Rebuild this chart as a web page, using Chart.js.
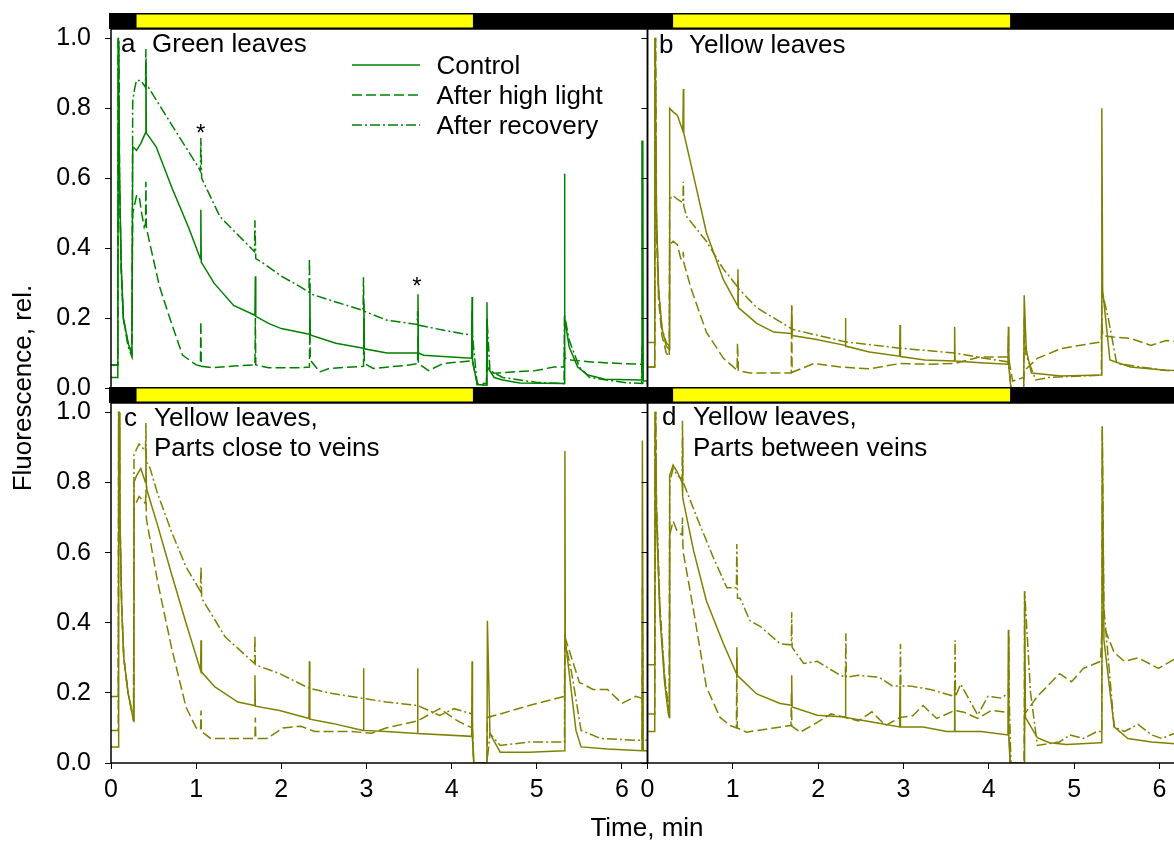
<!DOCTYPE html>
<html><head><meta charset="utf-8">
<script src="https://cdn.jsdelivr.net/npm/chart.js@4.4.0/dist/chart.umd.min.js"></script>
<style>
html,body{margin:0;padding:0;background:#fff;overflow:hidden;width:1174px;height:843px;position:relative}
canvas{position:absolute;left:0;top:0}
</style></head><body>
<canvas id="ca" width="1200" height="843"></canvas>
<canvas id="cb" width="1200" height="843"></canvas>
<canvas id="cc" width="1200" height="843"></canvas>
<canvas id="cd" width="1200" height="843"></canvas>
<script>
// ---------- axis / tick data ----------
const xTicks = [0, 1, 2, 3, 4, 5, 6];
const yTicks = [0, 0.2, 0.4, 0.6, 0.8, 1.0];
const xRange = [0, 6.3];
const yRange = [0, 1.027];
const lightPeriod = [0.3, 4.25];
const seriesNames = ['Control', 'After high light', 'After recovery'];

// ---------- panel a: green leaves ----------
const aCtrlT = [0,0.08,0.085,0.092,0.1,0.12,0.145,0.2,0.245,0.255,0.3,0.35,0.405,0.41,0.415,0.53,0.72,0.91,1.05,1.055,1.06,1.21,1.44,1.69,1.695,1.7,1.85,2.0,2.33,2.335,2.34,2.64,2.965,2.97,2.975,3.24,3.6,3.605,3.61,3.67,3.9,4.235,4.24,4.245,4.3,4.41,4.415,4.42,4.5,4.6,4.8,5.32,5.325,5.33,5.38,5.48,5.6,5.8,6.23,6.235,6.245,6.25,6.3];
const aCtrlF = [0.03,0.03,1.0,1.0,0.6,0.35,0.2,0.13,0.095,0.69,0.68,0.7,0.73,0.93,0.73,0.69,0.57,0.46,0.37,0.51,0.36,0.3,0.236,0.208,0.32,0.205,0.185,0.17,0.154,0.3,0.152,0.128,0.114,0.25,0.112,0.1,0.1,0.268,0.1,0.094,0.09,0.085,0.26,0.08,0.01,0.008,0.245,0.06,0.03,0.023,0.014,0.013,0.613,0.2,0.118,0.06,0.037,0.025,0.023,0.706,0.706,0.02,0.02];
const aHighT = [0,0.08,0.085,0.092,0.1,0.12,0.145,0.2,0.245,0.255,0.3,0.33,0.36,0.39,0.405,0.41,0.415,0.45,0.57,0.69,0.84,1.0,1.05,1.055,1.06,1.2,1.45,1.69,1.695,1.7,1.85,2.2,2.33,2.335,2.34,2.45,2.56,2.84,2.965,2.97,2.975,3.08,3.48,3.6,3.605,3.61,3.73,3.9,4.235,4.24,4.245,4.3,4.41,4.415,4.42,4.5,4.72,4.99,5.2,5.32,5.325,5.33,5.4,5.67,5.98,6.23,6.235,6.245,6.3];
const aHighF = [0.066,0.066,1.0,1.0,0.6,0.33,0.2,0.13,0.1,0.5,0.55,0.55,0.5,0.46,0.47,0.59,0.46,0.42,0.29,0.2,0.094,0.066,0.063,0.19,0.062,0.058,0.063,0.066,0.2,0.066,0.058,0.058,0.06,0.2,0.08,0.046,0.056,0.06,0.062,0.2,0.07,0.056,0.065,0.07,0.15,0.07,0.05,0.07,0.078,0.2,0.075,0.013,0.013,0.2,0.05,0.042,0.046,0.05,0.06,0.06,0.12,0.085,0.08,0.074,0.07,0.068,0.12,0.068,0.068];
const aRecT = [0,0.08,0.085,0.092,0.1,0.12,0.145,0.2,0.245,0.255,0.28,0.3,0.35,0.405,0.41,0.415,0.44,0.72,1.03,1.05,1.055,1.065,1.28,1.685,1.69,1.7,1.77,2.0,2.22,2.325,2.33,2.335,2.64,2.96,2.965,2.97,3.24,3.595,3.6,3.605,3.91,4.235,4.24,4.245,4.3,4.41,4.415,4.45,4.6,5.0,5.32,5.325,5.38,5.5,5.62,6.05,6.23,6.235,6.245,6.3];
const aRecF = [0.066,0.066,1.0,1.0,0.6,0.35,0.2,0.12,0.09,0.82,0.86,0.88,0.88,0.86,0.97,0.86,0.86,0.75,0.63,0.62,0.715,0.6,0.49,0.39,0.48,0.37,0.36,0.32,0.29,0.274,0.37,0.27,0.246,0.222,0.317,0.22,0.194,0.182,0.22,0.18,0.165,0.151,0.22,0.15,0.01,0.01,0.2,0.05,0.03,0.016,0.013,0.21,0.137,0.06,0.03,0.015,0.013,0.1,0.013,0.013];

// ---------- panel b: yellow leaves ----------
const bCtrlT = [0,0.085,0.088,0.095,0.105,0.13,0.17,0.22,0.255,0.26,0.3,0.35,0.415,0.42,0.425,0.54,0.69,0.89,1.055,1.06,1.065,1.28,1.48,1.685,1.69,1.695,1.95,2.315,2.32,2.325,2.6,2.955,2.96,2.965,3.25,3.595,3.6,3.605,3.9,4.225,4.23,4.235,4.26,4.41,4.415,4.44,4.5,4.85,5.32,5.325,5.335,5.42,5.66,6.08,6.3];
const bCtrlF = [0.06,0.06,1.0,1.0,0.5,0.28,0.17,0.12,0.11,0.8,0.79,0.78,0.735,0.855,0.73,0.607,0.445,0.31,0.236,0.34,0.23,0.185,0.16,0.156,0.236,0.15,0.14,0.122,0.2,0.12,0.103,0.091,0.18,0.09,0.08,0.077,0.175,0.077,0.072,0.068,0.175,0.06,0.0,0.0,0.265,0.108,0.043,0.034,0.037,0.8,0.28,0.08,0.06,0.051,0.05];
const bHighT = [0,0.085,0.088,0.095,0.105,0.13,0.17,0.22,0.255,0.26,0.3,0.35,0.39,0.415,0.42,0.425,0.51,0.69,0.89,1.05,1.055,1.065,1.2,1.685,1.69,1.695,1.95,2.26,2.6,2.96,3.3,3.6,3.9,4.23,4.28,4.41,4.42,4.57,4.85,5.32,5.325,5.335,5.46,5.66,5.9,6.08,6.3];
const bHighF = [0.06,0.06,1.0,1.0,0.45,0.25,0.15,0.1,0.09,0.41,0.42,0.41,0.37,0.37,0.39,0.36,0.285,0.16,0.085,0.051,0.128,0.05,0.043,0.043,0.236,0.045,0.07,0.06,0.055,0.07,0.068,0.07,0.089,0.089,0.02,0.03,0.05,0.085,0.113,0.132,0.2,0.15,0.146,0.142,0.122,0.136,0.13];
const bRecT = [0,0.085,0.088,0.095,0.105,0.13,0.17,0.22,0.255,0.26,0.3,0.35,0.415,0.42,0.425,0.46,0.69,0.89,1.055,1.06,1.065,1.28,1.685,1.69,1.695,2.32,2.96,3.6,3.95,4.225,4.23,4.235,4.26,4.41,4.415,4.43,4.55,4.7,5.32,5.325,5.4,5.5,6.08,6.3];
const bRecF = [0.13,0.13,1.0,1.0,0.5,0.28,0.17,0.13,0.12,0.54,0.55,0.54,0.53,0.59,0.52,0.49,0.42,0.34,0.29,0.31,0.285,0.23,0.17,0.2,0.168,0.132,0.114,0.1,0.085,0.075,0.15,0.07,0.0,0.0,0.2,0.1,0.023,0.03,0.037,0.28,0.2,0.07,0.05,0.05];

// ---------- panel c: yellow leaves, parts close to veins ----------
const cCtrlT = [0,0.085,0.09,0.097,0.105,0.125,0.15,0.2,0.265,0.27,0.3,0.35,0.405,0.41,0.415,0.42,0.545,0.71,0.88,1.052,1.057,1.062,1.22,1.49,1.685,1.69,1.695,1.98,2.325,2.33,2.335,2.6,2.96,2.965,2.97,3.23,3.595,3.6,3.605,4.235,4.24,4.245,4.26,4.415,4.42,4.45,4.57,4.91,5.325,5.33,5.335,5.46,5.52,5.83,6.235,6.24,6.25,6.3];
const cCtrlF = [0.046,0.046,1.0,1.0,0.7,0.45,0.3,0.2,0.12,0.80,0.82,0.84,0.80,0.9,0.79,0.78,0.68,0.54,0.40,0.264,0.35,0.26,0.217,0.174,0.164,0.25,0.162,0.15,0.127,0.29,0.125,0.113,0.093,0.27,0.093,0.09,0.084,0.27,0.084,0.076,0.29,0.07,0.0,0.0,0.406,0.084,0.031,0.031,0.035,0.89,0.35,0.093,0.046,0.04,0.035,0.92,0.035,0.035];
const cHighT = [0,0.085,0.09,0.097,0.105,0.125,0.15,0.2,0.265,0.27,0.33,0.405,0.41,0.415,0.42,0.545,0.71,0.88,1.0,1.052,1.057,1.062,1.17,1.55,1.69,1.695,1.7,1.83,2.02,2.23,2.39,2.81,3.06,3.23,3.6,3.86,4.07,4.24,4.26,4.415,4.42,4.57,4.91,5.325,5.33,5.5,5.66,5.83,6.0,6.16,6.3];
const cHighF = [0.093,0.093,1.0,1.0,0.7,0.45,0.3,0.2,0.12,0.73,0.76,0.74,0.78,0.7,0.69,0.52,0.33,0.16,0.1,0.095,0.15,0.09,0.07,0.07,0.07,0.13,0.07,0.07,0.1,0.105,0.09,0.09,0.085,0.1,0.12,0.155,0.12,0.1,0.0,0.0,0.13,0.14,0.164,0.19,0.36,0.23,0.21,0.21,0.17,0.19,0.18];
const cRecT = [0,0.085,0.09,0.097,0.105,0.125,0.15,0.2,0.265,0.27,0.33,0.405,0.41,0.415,0.46,0.545,0.71,0.88,1.05,1.057,1.065,1.34,1.685,1.69,1.695,1.98,2.33,2.6,2.965,3.23,3.6,3.86,4.03,4.24,4.26,4.415,4.45,4.57,4.91,5.325,5.33,5.41,5.52,5.75,6.16,6.235,6.24,6.25,6.3];
const cRecF = [0.19,0.19,1.0,1.0,0.7,0.45,0.3,0.2,0.13,0.88,0.91,0.89,0.97,0.86,0.84,0.77,0.66,0.56,0.49,0.56,0.47,0.36,0.284,0.364,0.28,0.255,0.213,0.198,0.184,0.174,0.164,0.136,0.155,0.14,0.0,0.0,0.084,0.05,0.06,0.06,0.35,0.256,0.093,0.07,0.065,0.065,0.5,0.065,0.065];

// ---------- panel d: yellow leaves, parts between veins ----------
const dCtrlT = [0,0.085,0.09,0.097,0.105,0.145,0.2,0.244,0.255,0.26,0.3,0.35,0.405,0.41,0.415,0.42,0.54,0.69,0.89,1.042,1.047,1.052,1.28,1.555,1.685,1.69,1.695,1.99,2.315,2.32,2.325,2.63,2.955,2.96,2.965,3.23,3.51,3.595,3.6,3.605,3.91,4.225,4.23,4.235,4.25,4.415,4.42,4.43,4.57,4.71,4.91,5.31,5.325,5.33,5.35,5.47,5.63,5.91,6.18,6.3];
const dCtrlF = [0.09,0.09,1.0,1.0,0.7,0.42,0.23,0.14,0.13,0.82,0.85,0.83,0.80,0.93,0.76,0.748,0.606,0.463,0.34,0.255,0.33,0.25,0.197,0.17,0.165,0.25,0.16,0.136,0.131,0.25,0.13,0.117,0.103,0.22,0.103,0.103,0.09,0.09,0.22,0.09,0.09,0.08,0.38,0.075,0.0,0.0,0.49,0.13,0.072,0.058,0.053,0.058,0.058,0.96,0.35,0.103,0.07,0.06,0.055,0.055];
const dHighT = [0,0.085,0.09,0.097,0.105,0.145,0.2,0.244,0.255,0.26,0.3,0.35,0.405,0.41,0.415,0.42,0.54,0.69,0.85,0.97,1.042,1.047,1.052,1.16,1.48,1.682,1.687,1.692,1.79,1.95,2.15,2.32,2.47,2.63,2.79,2.96,3.11,3.23,3.39,3.6,3.71,3.87,4.03,4.19,4.23,4.25,4.415,4.42,4.57,4.83,4.97,5.11,5.31,5.33,5.47,5.59,5.75,5.99,6.18,6.3];
const dHighF = [0.14,0.14,1.0,1.0,0.72,0.44,0.24,0.16,0.15,0.65,0.69,0.66,0.65,0.7,0.62,0.6,0.435,0.217,0.13,0.107,0.1,0.3,0.1,0.088,0.1,0.107,0.2,0.105,0.088,0.11,0.14,0.13,0.12,0.146,0.107,0.13,0.135,0.164,0.127,0.15,0.145,0.127,0.15,0.145,0.15,0.0,0.0,0.14,0.19,0.255,0.232,0.27,0.29,0.4,0.315,0.29,0.3,0.27,0.297,0.29];
const dRecT = [0,0.085,0.09,0.097,0.105,0.145,0.2,0.244,0.255,0.26,0.3,0.35,0.405,0.41,0.415,0.42,0.58,0.77,0.93,1.042,1.047,1.055,1.086,1.2,1.32,1.555,1.685,1.69,1.695,1.83,1.99,2.26,2.32,2.325,2.33,2.47,2.71,2.87,2.96,2.965,2.97,3.07,3.31,3.6,3.605,3.61,3.67,3.87,3.99,4.15,4.23,4.235,4.24,4.26,4.415,4.42,4.49,4.57,4.83,4.95,5.11,5.27,5.325,5.33,5.35,5.47,5.59,5.75,5.91,6.03,6.18,6.3];
const dRecF = [0.28,0.28,1.0,1.0,0.75,0.45,0.25,0.16,0.15,0.80,0.84,0.82,0.81,0.976,0.80,0.80,0.70,0.587,0.50,0.50,0.625,0.47,0.47,0.406,0.39,0.34,0.337,0.43,0.33,0.284,0.29,0.25,0.245,0.37,0.245,0.25,0.245,0.22,0.22,0.34,0.22,0.22,0.21,0.19,0.35,0.19,0.225,0.137,0.19,0.185,0.2,0.36,0.18,0.0,0.0,0.49,0.2,0.05,0.06,0.08,0.07,0.09,0.09,0.96,0.44,0.103,0.09,0.11,0.08,0.07,0.085,0.08];

// ---------- styling ----------
const FONT = "'Liberation Sans', Arial, Helvetica, sans-serif";
Chart.defaults.font.family = FONT;
const GREEN = '#008000';
const OLIVE = '#808000';
const DASHES = [[], [10, 4], [10, 3, 2, 3]];

function pts(T, F) { return T.map((t, i) => ({ x: t, y: F[i] })); }

function panelPlugin(cfg) {
  return {
    id: 'panelDeco' + cfg.id,
    afterDraw(chart) {
      const ctx = chart.ctx, a = chart.chartArea, xs = chart.scales.x;
      ctx.save();
      ctx.strokeStyle = '#000'; ctx.lineWidth = 1.5;
      ctx.strokeRect(a.left, a.top, a.right - a.left, a.bottom - a.top);
      const bl = cfg.barLeft(a);
      ctx.fillStyle = '#000';
      ctx.fillRect(bl, a.top - 16, chart.width - bl, 16);
      const x0 = xs.getPixelForValue(lightPeriod[0]), x1 = xs.getPixelForValue(lightPeriod[1]);
      ctx.fillStyle = '#ffff00';
      ctx.fillRect(x0, a.top - 14.5, x1 - x0, 13);
      ctx.fillStyle = '#000';
      ctx.font = '26px ' + FONT;
      ctx.textAlign = 'left'; ctx.textBaseline = 'alphabetic';
      cfg.texts.forEach(t => ctx.fillText(t[0], t[1], t[2]));
      if (cfg.legend) {
        chart.data.datasets.forEach((ds, i) => {
          const yy = 65 + i * 30;
          ctx.save();
          ctx.strokeStyle = ds.borderColor; ctx.lineWidth = 1.5;
          ctx.setLineDash(ds.borderDash);
          ctx.beginPath(); ctx.moveTo(352, yy); ctx.lineTo(420, yy); ctx.stroke();
          ctx.restore();
          ctx.fillText(ds.label, 436.5, yy + 8.5);
        });
      }
      if (cfg.stars) {
        ctx.font = '24px ' + FONT; ctx.textAlign = 'center';
        cfg.stars.forEach(s => ctx.fillText('*', s[0], s[1]));
      }
      if (cfg.titles) {
        ctx.font = '26px ' + FONT; ctx.textAlign = 'center';
        ctx.fillText('Time, min', 647, 836);
        ctx.save();
        ctx.translate(31, 388); ctx.rotate(-Math.PI / 2);
        ctx.fillText('Fluorescence, rel.', 0, 0);
        ctx.restore();
      }
      ctx.restore();
    }
  };
}

function makePanel(cfg) {
  const sets = cfg.series.map((s, i) => ({
    label: seriesNames[i], data: pts(s[0], s[1]),
    borderColor: cfg.color, borderWidth: 1.5, borderDash: DASHES[i],
    pointRadius: 0, tension: 0, fill: false
  }));
  return new Chart(document.getElementById(cfg.id), {
    type: 'line',
    data: { datasets: sets },
    options: {
      responsive: false, animation: false, devicePixelRatio: 1,
      layout: { padding: cfg.pad },
      plugins: { legend: { display: false }, tooltip: { enabled: false } },
      scales: {
        x: {
          type: 'linear', min: xRange[0], max: xRange[1], display: cfg.showX,
          afterBuildTicks: s => { s.ticks = xTicks.map(v => ({ value: v })); },
          afterFit: s => { s.height = cfg.showX ? 80 : 0; },
          grid: { drawOnChartArea: false, drawTicks: true, tickLength: 6, color: '#000', lineWidth: 1 },
          border: { display: false },
          ticks: { autoSkip: false, maxRotation: 0, color: '#000', font: { size: 25 }, padding: 6, callback: v => String(v) }
        },
        y: {
          type: 'linear', min: yRange[0], max: yRange[1],
          afterBuildTicks: s => { s.ticks = yTicks.map(v => ({ value: v })); },
          afterFit: s => { s.width = cfg.yWidth; },
          grid: { drawOnChartArea: false, drawTicks: true, tickLength: 6, color: '#000', lineWidth: 1 },
          border: { display: false },
          ticks: { autoSkip: false, color: '#000', font: { size: 25 }, padding: 14,
                   callback: cfg.yLabels ? (v => Number(v).toFixed(1)) : (() => '') }
        }
      }
    },
    plugins: [panelPlugin(cfg)]
  });
}

makePanel({ id: 'ca', color: GREEN, series: [[aCtrlT, aCtrlF], [aHighT, aHighF], [aRecT, aRecF]],
  pad: { left: 0, top: 27.5, right: 552.5, bottom: 455 }, showX: false, yWidth: 111, yLabels: true,
  barLeft: a => a.left - 2,
  texts: [['a', 121, 52], ['Green leaves', 152, 52]], legend: true,
  stars: [[200.7, 140.5], [416.8, 294]] });
makePanel({ id: 'cb', color: OLIVE, series: [[bCtrlT, bCtrlF], [bHighT, bHighF], [bRecT, bRecF]],
  pad: { left: 0, top: 27.5, right: 15, bottom: 455 }, showX: false, yWidth: 647.5, yLabels: false,
  barLeft: a => a.left,
  texts: [['b', 659, 53], ['Yellow leaves', 689, 53]] });
makePanel({ id: 'cc', color: OLIVE, series: [[cCtrlT, cCtrlF], [cHighT, cHighF], [cRecT, cRecF]],
  pad: { left: 0, top: 403, right: 552.5, bottom: 0 }, showX: true, yWidth: 111, yLabels: true,
  barLeft: a => a.left - 2,
  texts: [['c', 124, 426], ['Yellow leaves,', 154, 426], ['Parts close to veins', 154, 456]], titles: true });
makePanel({ id: 'cd', color: OLIVE, series: [[dCtrlT, dCtrlF], [dHighT, dHighF], [dRecT, dRecF]],
  pad: { left: 0, top: 403, right: 15, bottom: 0 }, showX: true, yWidth: 647.5, yLabels: false,
  barLeft: a => a.left,
  texts: [['d', 662, 425], ['Yellow leaves,', 693, 425], ['Parts between veins', 693, 456]] });
</script>
</body></html>
